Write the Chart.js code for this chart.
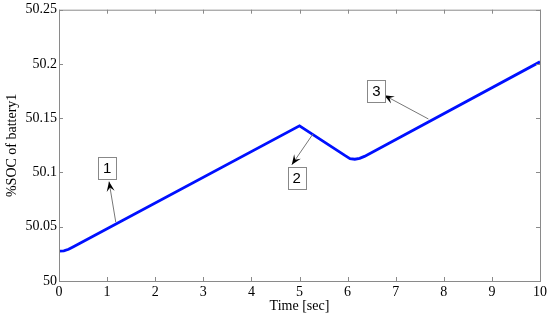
<!DOCTYPE html>
<html>
<head>
<meta charset="utf-8">
<script src="https://cdn.jsdelivr.net/npm/chart.js@4/dist/chart.umd.min.js"></script>
<style>
  html, body { margin: 0; padding: 0; background: #fff; }
  #wrap { width: 550px; height: 320px; }
</style>
</head>
<body>
<div id="wrap"><canvas id="socChart" width="550" height="320"></canvas></div>
<script>
// ====== DATA ======
const timeSec = [0, 0.1, 0.2, 0.3, 5.0, 5.95, 6.05, 6.15, 6.25, 6.35, 10];
const socPct  = [50.0275, 50.0278, 50.0292, 50.0316, 50.143, 50.1155, 50.1128, 50.1122, 50.1130, 50.1148, 50.202];
const xTicks  = [0, 1, 2, 3, 4, 5, 6, 7, 8, 9, 10];
const yTicks  = [50, 50.05, 50.1, 50.15, 50.2, 50.25];

// callouts: label, box centre (data coords), arrow start on curve, arrow tip
const noteLabels = ["1", "2", "3"];
const noteBox    = [[1.0, 50.1044], [4.94, 50.0952], [6.6, 50.1749]];
const noteFrom   = [[1.18, 50.0543], [5.28, 50.1355], [7.68, 50.1493]];
const noteTip    = [[1.04, 50.0916], [4.84, 50.1071], [6.76, 50.1712]];

const AXIS = "#8a8a8a";
const SERIF = "'Liberation Serif', 'Times New Roman', serif";

// ====== PLUGIN: box frame, inward ticks, callouts ======
const framePlugin = {
  id: "frame",
  afterDatasetsDraw(chart) {
    const { ctx, chartArea: a, scales: { x, y } } = chart;
    ctx.save();
    ctx.strokeStyle = AXIS;
    ctx.lineWidth = 1;
    ctx.strokeRect(a.left + 0.5, a.top + 0.5, a.right - a.left, a.bottom - a.top);
    ctx.beginPath();
    const t = 4;
    xTicks.forEach(v => {
      const px = Math.round(x.getPixelForValue(v)) + 0.5;
      ctx.moveTo(px, a.bottom); ctx.lineTo(px, a.bottom - t);
      ctx.moveTo(px, a.top); ctx.lineTo(px, a.top + t);
    });
    yTicks.forEach(v => {
      const py = Math.round(y.getPixelForValue(v)) + 0.5;
      ctx.moveTo(a.left, py); ctx.lineTo(a.left + t, py);
      ctx.moveTo(a.right, py); ctx.lineTo(a.right - t, py);
    });
    ctx.stroke();

    // callouts
    noteLabels.forEach((lab, i) => {
      const fx = x.getPixelForValue(noteFrom[i][0]), fy = y.getPixelForValue(noteFrom[i][1]);
      const tx = x.getPixelForValue(noteTip[i][0]),  ty = y.getPixelForValue(noteTip[i][1]);
      ctx.strokeStyle = "#777";
      ctx.lineWidth = 1;
      ctx.beginPath(); ctx.moveTo(fx, fy); ctx.lineTo(tx, ty); ctx.stroke();
      // arrow head
      const ang = Math.atan2(ty - fy, tx - fx);
      const L = 10, W = 4;
      ctx.fillStyle = "#000";
      ctx.beginPath();
      ctx.moveTo(tx, ty);
      ctx.lineTo(tx - L * Math.cos(ang) + W * Math.sin(ang), ty - L * Math.sin(ang) - W * Math.cos(ang));
      ctx.lineTo(tx - 0.6 * L * Math.cos(ang), ty - 0.6 * L * Math.sin(ang));
      ctx.lineTo(tx - L * Math.cos(ang) - W * Math.sin(ang), ty - L * Math.sin(ang) + W * Math.cos(ang));
      ctx.closePath();
      ctx.fill();

      const cx = x.getPixelForValue(noteBox[i][0]), cy = y.getPixelForValue(noteBox[i][1]);
      const bw = 18, bh = 22;
      ctx.fillStyle = "#fff";
      ctx.fillRect(cx - bw / 2, cy - bh / 2, bw, bh);
      ctx.strokeStyle = "#888";
      ctx.strokeRect(Math.round(cx - bw / 2) + 0.5, Math.round(cy - bh / 2) + 0.5, bw, bh);
      ctx.fillStyle = "#000";
      ctx.font = "15px 'Liberation Sans', Arial, sans-serif";
      ctx.textAlign = "center";
      ctx.textBaseline = "middle";
      ctx.fillText(lab, cx, cy + 1);
    });
    ctx.restore();
  }
};

// ====== CHART ======
const points = timeSec.map((t, i) => ({ x: t, y: socPct[i] }));

new Chart(document.getElementById("socChart"), {
  type: "line",
  data: {
    datasets: [{
      label: "SOC",
      data: points,
      borderColor: "#0010ff",
      borderWidth: 2.8,
      pointRadius: 0,
      tension: 0,
      fill: false
    }]
  },
  options: {
    responsive: false,
    animation: false,
    layout: { padding: { top: 0, right: 8, left: 4, bottom: 5 } },
    plugins: { legend: { display: false }, tooltip: { enabled: false } },
    scales: {
      x: {
        type: "linear",
        min: 0, max: 10,
        afterBuildTicks: s => { s.ticks = xTicks.map(v => ({ value: v })); },
        afterFit: s => { s.height = 34; },
        grid: { display: false, drawTicks: false },
        border: { display: false },
        ticks: { color: "#000", padding: 3, font: { family: SERIF, size: 14 }, maxRotation: 0 },
        title: { display: true, text: "Time [sec]", color: "#000", padding: { top: 0, bottom: 0 }, font: { family: SERIF, size: 14 } }
      },
      y: {
        min: 50, max: 50.25,
        afterBuildTicks: s => { s.ticks = yTicks.map(v => ({ value: v })); },
        afterFit: s => { s.width = 55; },
        grid: { display: false, drawTicks: false },
        border: { display: false },
        ticks: {
          color: "#000", padding: 2,
          font: { family: SERIF, size: 14, lineHeight: 1.1 },
          callback: v => String(+Number(v).toFixed(2))
        },
        title: { display: true, text: "%SOC of battery1", color: "#000", padding: { top: 0, bottom: 0 }, font: { family: SERIF, size: 14 } }
      }
    }
  },
  plugins: [framePlugin]
});
</script>
</body>
</html>
